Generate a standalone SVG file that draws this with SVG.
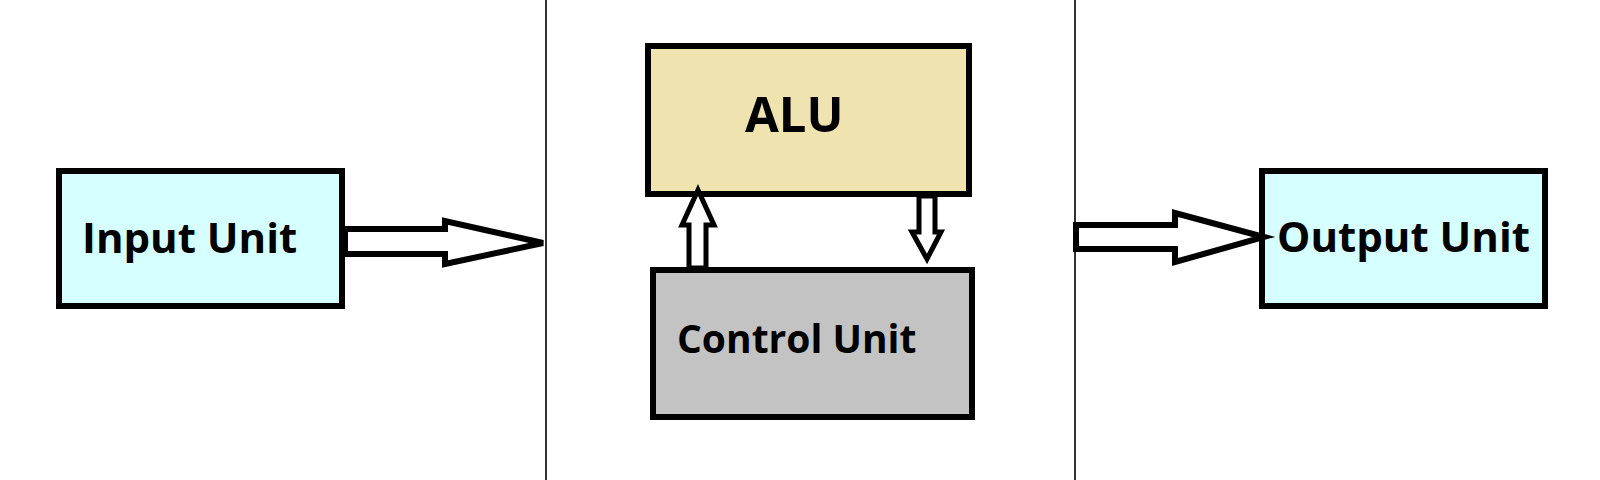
<svg xmlns="http://www.w3.org/2000/svg" width="1600" height="480" viewBox="0 0 1600 480">
<style>
.box{stroke:#000;stroke-width:6}
.lbl{font-family:"Open Sans","Noto Sans",sans-serif;font-weight:bold;fill:#000}
.arr{fill:#fff;stroke:#000;stroke-linejoin:miter}
.div{stroke:#333;stroke-width:2}
</style>
<rect width="1600" height="480" fill="#fff"/>
<g id="dividers">
<line class="div" x1="546" y1="0" x2="546" y2="480"/>
<line class="div" x1="1075" y1="0" x2="1075" y2="480"/>
</g>
<g id="input-unit">
<rect class="box" x="59" y="171" width="283" height="135" fill="#D6FFFF"/>
<text class="lbl" x="82" y="253" font-size="42">Input Unit</text>
</g>
<g id="alu">
<rect class="box" x="648" y="46" width="321" height="148" fill="#EFE4B0"/>
<text class="lbl" x="745" y="132" font-size="49">ALU</text>
</g>
<g id="control-unit">
<rect class="box" x="653" y="270" width="319" height="147" fill="#C3C3C3"/>
<text class="lbl" x="677" y="353" font-size="39">Control Unit</text>
</g>
<g id="output-unit">
<rect class="box" x="1262" y="171" width="283" height="135" fill="#D6FFFF"/>
<text class="lbl" x="1277" y="252" font-size="42">Output Unit</text>
</g>
<g id="connectors">
<path class="arr" stroke-width="6" d="M345,229 L445,229 L445,221 L543,243 L445,264 L445,254 L345,254 Z"/>
<path class="arr" stroke-width="6" d="M1076,225 L1175,225 L1175,213 L1264,237 L1175,262 L1175,249 L1076,249 Z"/>
<path class="arr" stroke-width="5" d="M689,268 L689,225 L682,225 L698,190 L714,225 L706,225 L706,268 Z"/>
<path class="arr" stroke-width="5" d="M919,196 L919,232 L912,232 L927,259 L941,232 L935,232 L935,196 Z"/>
</g>
</svg>
